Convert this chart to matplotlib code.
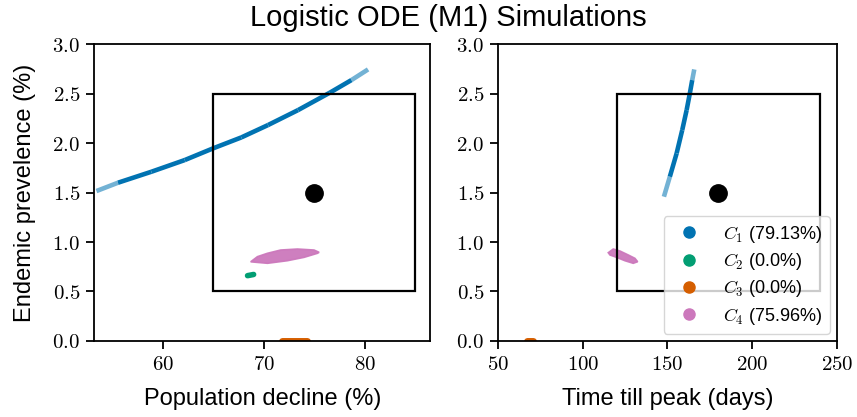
import numpy as np
import matplotlib
matplotlib.use('Agg')
import matplotlib.pyplot as plt
from matplotlib.collections import LineCollection
from matplotlib.lines import Line2D
from matplotlib.patches import Rectangle
from matplotlib.ticker import FuncFormatter

plt.rcParams['font.family'] = ['Liberation Sans', 'DejaVu Sans']
plt.rcParams['mathtext.fontset'] = 'cm'

# Cluster C1: thin curve of simulations (left: decline vs prevalence, right: peak time vs prevalence)
c1_decline = [53.44, 55.57, 58.88, 62.18, 64.98, 67.79, 70.43, 73.40, 76.53, 78.68, 80.33]
c1_prev_left = [1.515, 1.599, 1.710, 1.828, 1.946, 2.057, 2.182, 2.333, 2.508, 2.636, 2.744]
c1_time = [147.9, 151.4, 155.4, 158.7, 161.3, 163.2, 164.6, 165.8]
c1_prev_right = [1.458, 1.660, 1.896, 2.131, 2.333, 2.502, 2.636, 2.744]

# Cluster C2: tiny spot
c2_decline = [68.4, 69.0]
c2_prev_left = [0.660, 0.672]
c2_time = [87.0, 87.4]
c2_prev_right = [0.667, 0.667]

# Cluster C3: zero prevalence
c3_decline = [71.8, 74.3]
c3_time = [67.0, 70.6]
c3_prev = [0.0, 0.0]

# Cluster C4: outline of the point cloud
c4_decline = [68.71, 70.37, 72.34, 73.99, 75.32, 75.48, 74.98, 73.34, 71.68, 70.37, 69.38]
c4_prev_left = [0.800, 0.785, 0.811, 0.845, 0.886, 0.896, 0.919, 0.929, 0.919, 0.886, 0.852]
c4_time = [115.07, 118.0, 121.95, 126.86, 130.80, 132.39, 129.80, 124.90, 120.0, 116.06]
c4_prev_right = [0.892, 0.929, 0.909, 0.869, 0.835, 0.801, 0.785, 0.811, 0.845, 0.869]

# Target box and target point
target_decline = (65, 85)
target_time = (120, 240)
target_prev = (0.5, 2.5)
target_point = [(75, 1.5), (180, 1.5)]

labels = [r'$C_1$ (79.13%)', r'$C_2$ (0.0%)', r'$C_3$ (0.0%)', r'$C_4$ (75.96%)']
colors = ['#0173b2', '#029e73', '#d55e00', '#cc78bc']


def faded_curve(ax, x, y, color):
    pts = np.column_stack([x, y])
    segs = np.stack([pts[:-1], pts[1:]], axis=1)
    alphas = np.ones(len(segs))
    alphas[0] = 0.55
    alphas[-1] = 0.55
    rgba = [matplotlib.colors.to_rgba(color, a) for a in alphas]
    lc = LineCollection(segs, colors=rgba, linewidths=3.3, capstyle='butt', joinstyle='round')
    ax.add_collection(lc)


fig = plt.figure(figsize=(8.57, 4.17), dpi=100)
ax1 = fig.add_axes([0.1097, 0.1823, 0.3925, 0.712])
ax2 = fig.add_axes([0.5811, 0.1823, 0.3955, 0.712])

panels = [
    (ax1, c1_decline, c1_prev_left, c2_decline, c2_prev_left, c3_decline,
     c4_decline, c4_prev_left, target_decline, target_point[0]),
    (ax2, c1_time, c1_prev_right, c2_time, c2_prev_right, c3_time,
     c4_time, c4_prev_right, target_time, target_point[1]),
]

for ax, x1, y1, x2, y2, x3, x4, y4, tbox, tpt in panels:
    faded_curve(ax, x1, y1, colors[0])
    ax.plot(x2, y2, color=colors[1], lw=4, solid_capstyle='round')
    ax.plot(x3, c3_prev, color=colors[2], lw=5, solid_capstyle='round')
    ax.fill(x4, y4, color=colors[3], lw=1.2, edgecolor=colors[3], alpha=0.95)
    ax.add_patch(Rectangle((tbox[0], target_prev[0]), tbox[1] - tbox[0],
                           target_prev[1] - target_prev[0], fill=False,
                           edgecolor='black', lw=1.6, zorder=3))
    ax.plot(*tpt, 'o', color='black', ms=12.5, zorder=4)
    ax.set_ylim(0, 3)
    ax.set_yticks([0, 0.5, 1, 1.5, 2, 2.5, 3])
    ax.yaxis.set_major_formatter(FuncFormatter(lambda v, _: f'${v:.1f}$'))
    ax.xaxis.set_major_formatter(FuncFormatter(lambda v, _: f'${v:.0f}$'))
    ax.tick_params(direction='out', length=6, width=1.3, labelsize=15, pad=4)
    for s in ax.spines.values():
        s.set_linewidth(1.3)

ax1.set_xlim(53.2, 86.5)
ax1.set_xticks([60, 70, 80])
ax2.set_xlim(50, 250)
ax2.set_xticks([50, 100, 150, 200, 250])

ax1.set_xlabel('Population decline (%)', fontsize=17, labelpad=10)
ax2.set_xlabel('Time till peak (days)', fontsize=17, labelpad=10)
ax1.set_ylabel('Endemic prevelence (%)', fontsize=17, labelpad=12)
fig.suptitle('Logistic ODE (M1) Simulations', fontsize=21, x=0.523, y=0.99)

handles = [Line2D([], [], ls='', marker='o', ms=8, color=c) for c in colors]
ax2.legend(handles, labels, loc='lower right', fontsize=13, framealpha=0.8,
           edgecolor='#cccccc', borderpad=0.4, labelspacing=0.35,
           handletextpad=0.9, borderaxespad=0.4)

fig.savefig('out.png', dpi=100)
